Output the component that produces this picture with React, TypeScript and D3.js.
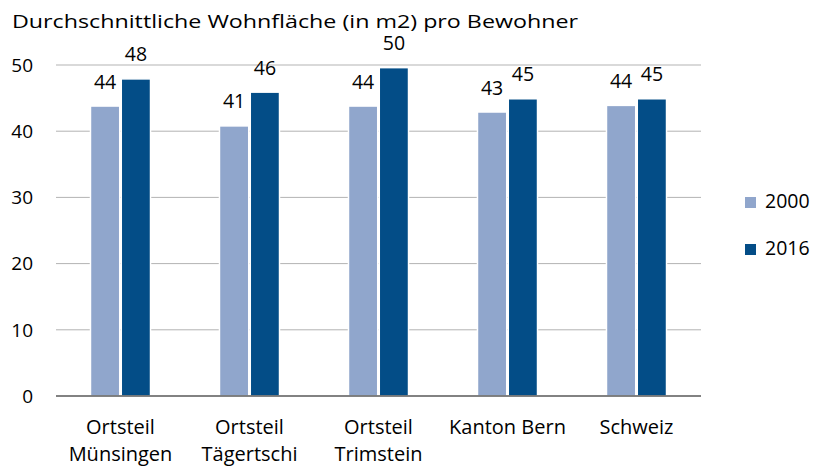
import React from "react";
import * as d3 from "d3";

const categories: string[][] = [
  ["Ortsteil", "Münsingen"],
  ["Ortsteil", "Tägertschi"],
  ["Ortsteil", "Trimstein"],
  ["Kanton Bern"],
  ["Schweiz"],
];
const seriesNames = ["2000", "2016"];
const values2000 = [43.8, 40.8, 43.8, 42.9, 43.9];
const values2016 = [47.9, 45.9, 49.6, 44.9, 44.9];
const yTicks = [0, 10, 20, 30, 40, 50];
const title = "Durchschnittliche Wohnfläche (in m2) pro Bewohner";
const colors = ["#90A6CC", "#034D87"];

const W = 814;
const H = 468;
const FONT = "'Open Sans', 'Noto Sans', sans-serif";

export default function App() {
  const left = 56, right = 701, top = 65, bottom = 396;
  const keys = categories.map((c) => c.join(" "));
  const x0 = d3.scaleBand<string>().domain(keys).range([left, right]).padding(0);
  const x1 = d3
    .scaleBand<string>()
    .domain(seriesNames)
    .range([0, x0.bandwidth()])
    .paddingInner(0.05)
    .paddingOuter(1.12);
  const y = d3.scaleLinear().domain([0, 50]).range([bottom, top]);
  const fmt = d3.format(".0f");
  const series = [values2000, values2016];

  return (
    <div style={{ position: "absolute", left: 0, top: 0 }}>
      <svg width={W} height={H} style={{ display: "block", background: "#fff" }} fontFamily={FONT}>
        <text x={12} y={28} fontSize={19} fill="#000" textLength={566} lengthAdjust="spacingAndGlyphs">
          {title}
        </text>
        {yTicks.map((t) => (
          <g key={t}>
            {t !== 0 && (
              <line x1={left} x2={right} y1={y(t)} y2={y(t)} stroke="#B3B3B3" strokeWidth={1} />
            )}
            <text x={33} y={y(t)} dy="0.36em" textAnchor="end" fontSize={19} fill="#000">
              {t}
            </text>
          </g>
        ))}
        {keys.map((k, i) => (
          <g key={k}>
            {series.map((vals, s) => {
              const bx = (x0(k) ?? 0) + (x1(seriesNames[s]) ?? 0);
              const bw = x1.bandwidth();
              return (
                <g key={s}>
                  <rect
                    x={bx}
                    y={y(vals[i])}
                    width={bw}
                    height={bottom - y(vals[i])}
                    fill={colors[s]}
                    stroke="#fff"
                    strokeWidth={1.5}
                  />
                  <text
                    x={bx + bw / 2}
                    y={y(vals[i]) - 17.5}
                    textAnchor="middle"
                    fontSize={19.5}
                    fill="#000"
                  >
                    {fmt(vals[i])}
                  </text>
                </g>
              );
            })}
            {categories[i].map((line, li) => (
              <text
                key={li}
                x={(x0(k) ?? 0) + x0.bandwidth() / 2}
                y={434 + li * 27}
                textAnchor="middle"
                fontSize={20}
                fill="#000"
              >
                {line}
              </text>
            ))}
          </g>
        ))}
        <line x1={left} x2={right} y1={bottom} y2={bottom} stroke="#595959" strokeWidth={1.5} />
        {seriesNames.map((n, s) => (
          <g key={n}>
            <rect x={745} y={197 + s * 47} width={11} height={11} fill={colors[s]} />
            <text x={765} y={207.5 + s * 47} fontSize={19.5} fill="#000">
              {n}
            </text>
          </g>
        ))}
      </svg>
    </div>
  );
}
